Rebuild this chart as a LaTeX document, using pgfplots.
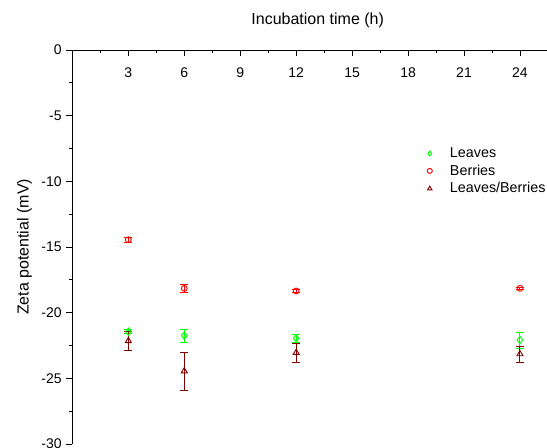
\documentclass[border=0pt]{standalone}
\usepackage{pgfplots}
\pgfplotsset{compat=1.18}
\usepackage{fontspec}
\setmainfont{Liberation Sans}
\definecolor{lgreen}{RGB}{0,255,0}
\definecolor{bred}{RGB}{255,0,0}
\definecolor{mred}{RGB}{128,0,0}

\begin{document}
\begin{tikzpicture}
\begin{axis}[name=ax, scale only axis, width=356pt, height=295.5pt,
  xmin=0, xmax=25.45, ymin=-30, ymax=0,
  axis x line*=top, axis y line*=left,
  xtick={3,6,...,24}, xticklabels={3,6,9,12,15,18,21,24},
  minor xtick={1.5,4.5,...,22.5},
  ytick={-30,-25,...,0}, yticklabels={-30,-25,-20,-15,-10,-5,0},
  minor ytick={-27.5,-22.5,...,-2.5},
  tick align=outside, major tick length=4.5pt, minor tick length=2.5pt,
  major x tick style={yshift=-4.5pt}, minor x tick style={yshift=-2.5pt},
  every tick/.style={black, line width=0.6pt},
  axis line style={line width=0.6pt},
  xticklabel style={anchor=north, yshift=-14.5pt},
  tick label style={font=\fontsize{10.5}{12}\selectfont},
  label style={font=\fontsize{12}{14}\selectfont},
  xlabel={Incubation time (h)}, ylabel={Zeta potential (mV)},
  xlabel style={at={([xshift=6pt,yshift=22pt]axis description cs:0.5,1)}, anchor=center},
  ylabel style={at={([xshift=-36pt]axis description cs:0,0.5)}, anchor=center},
  legend image code/.code={\draw[#1, mark size=1.9pt] plot coordinates {(0cm,0cm)}; \path (0.45cm,0cm);},
  legend style={at={(axis cs:18.8,-7.0)}, anchor=north west, draw=none, fill=none,
    font=\fontsize{10.75}{13}\selectfont, legend cell align=left, row sep=0pt},
  clip=false]
\addplot[only marks, lgreen, mark=diamond, mark size=2.8pt, line width=0.7pt,
  error bars/.cd, y dir=both, y explicit,
  error bar style={lgreen, line width=0.7pt}, error mark options={rotate=90, mark size=3pt, lgreen}]
  coordinates {(3,-21.45) +- (0,0.15) (6,-21.75) +- (0,0.5) (12,-21.95) +- (0,0.3) (24,-22.1) +- (0,0.6)};
\addlegendentry{Leaves}
\addplot[only marks, bred, mark=o, mark size=2.2pt, line width=0.7pt,
  error bars/.cd, y dir=both, y explicit,
  error bar style={bred, line width=0.7pt}, error mark options={rotate=90, mark size=3pt, bred}]
  coordinates {(3,-14.45) +- (0,0.2) (6,-18.15) +- (0,0.3) (12,-18.35) +- (0,0.1) (24,-18.15) +- (0,0.05)};
\addlegendentry{Berries}
\addplot[only marks, mred, mark=triangle, mark size=2.6pt, line width=0.7pt,
  error bars/.cd, y dir=both, y explicit,
  error bar style={mred, line width=0.7pt}, error mark options={rotate=90, mark size=3pt, mred}]
  coordinates {(3,-22.15) +- (0,0.75) (6,-24.45) +- (0,1.45) (12,-23.05) +- (0,0.75) (24,-23.15) +- (0,0.6)};
\addlegendentry{Leaves/Berries}
\end{axis}
\pgfresetboundingbox
\useasboundingbox ([xshift=-54.3pt,yshift=-3pt]ax.south west) rectangle ([yshift=37.5pt]ax.north east);
\end{tikzpicture}
\end{document}
